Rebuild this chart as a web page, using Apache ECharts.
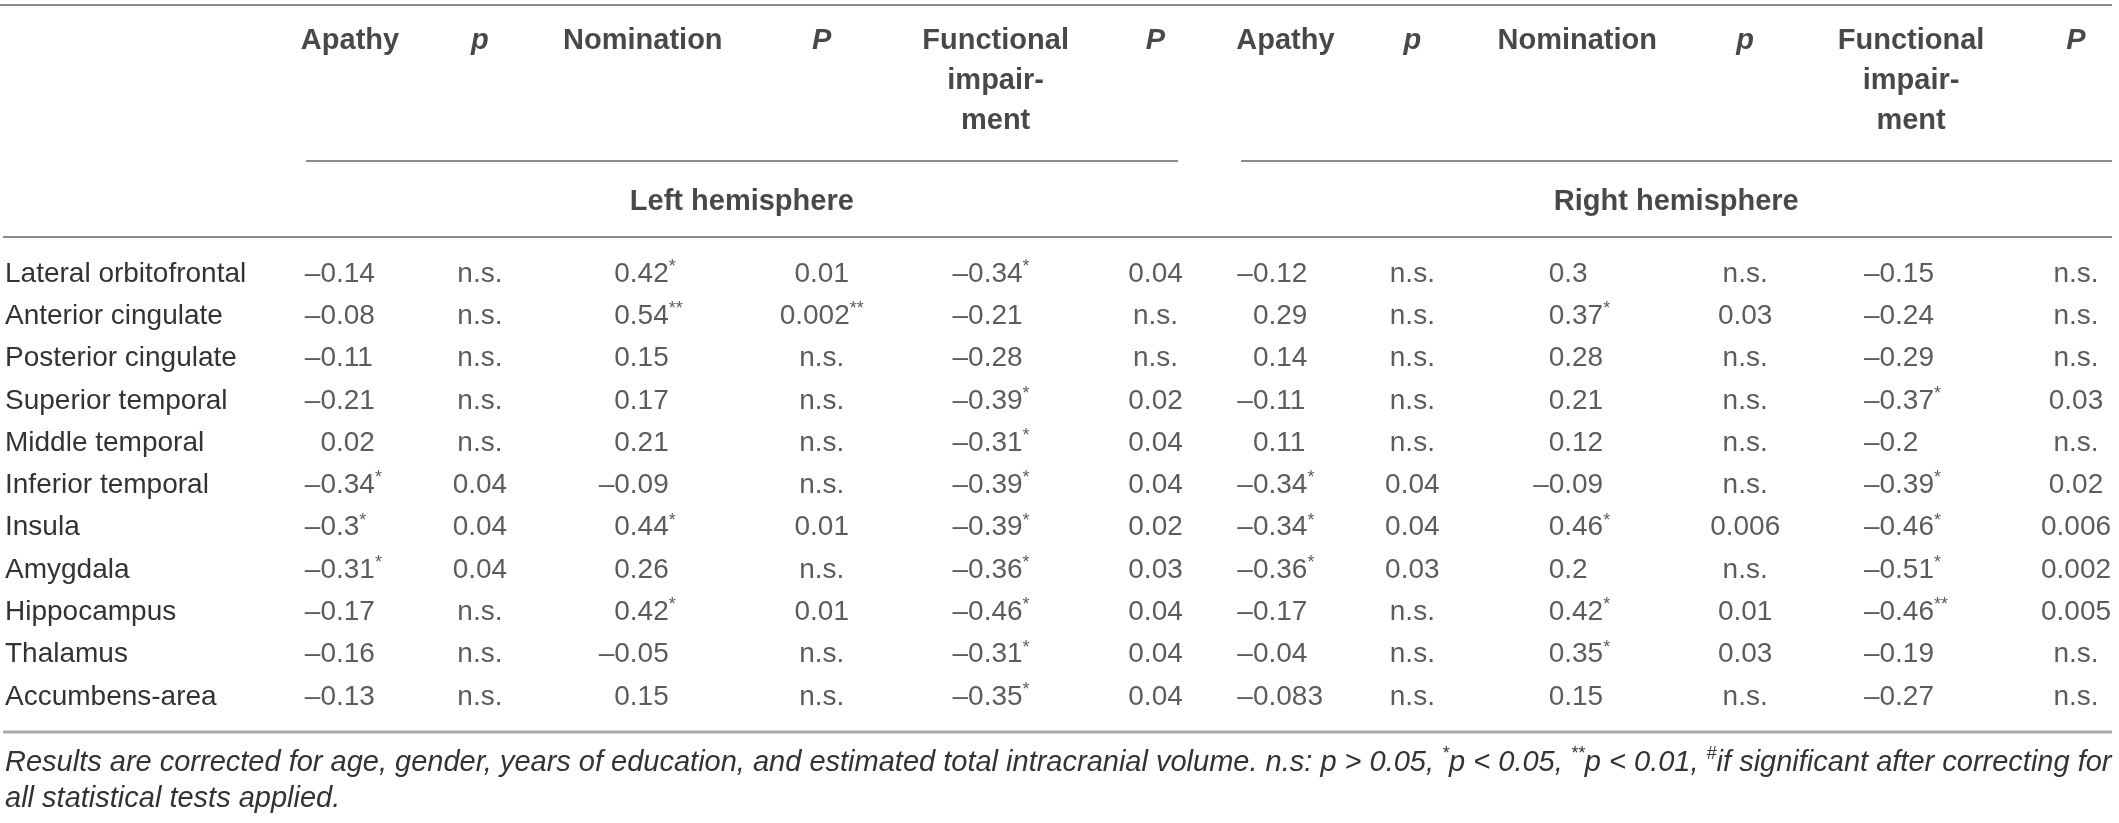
<!DOCTYPE html>
<html><head><meta charset="utf-8">
<script src="https://cdn.jsdelivr.net/npm/echarts@6/dist/echarts.min.js"></script>
<style>html,body{margin:0;padding:0;background:#fff}#c{width:2119px;height:823px}</style>
</head><body><div id="c"></div>
<script>
// ---------- DATA ----------
const regions = ['Lateral orbitofrontal','Anterior cingulate','Posterior cingulate','Superior temporal','Middle temporal','Inferior temporal','Insula','Amygdala','Hippocampus','Thalamus','Accumbens-area'];
const columns = ['apathyL','pApathyL','nominationL','pNominationL','functionalL','pFunctionalL','apathyR','pApathyR','nominationR','pNominationR','functionalR','pFunctionalR'];
const headers = ['Apathy','p','Nomination','P','Functional\nimpair-\nment','P','Apathy','p','Nomination','p','Functional\nimpair-\nment','P'];
const hemispheres = ['Left hemisphere','Right hemisphere'];

// Left hemisphere
const apathyL        = [-0.14,-0.08,-0.11,-0.21,0.02,-0.34,-0.3,-0.31,-0.17,-0.16,-0.13];
const apathyLSig     = ['','','','','','*','*','*','','',''];
const pApathyL       = ['n.s.','n.s.','n.s.','n.s.','n.s.','0.04','0.04','0.04','n.s.','n.s.','n.s.'];
const nominationL    = [0.42,0.54,0.15,0.17,0.21,-0.09,0.44,0.26,0.42,-0.05,0.15];
const nominationLSig = ['*','**','','','','','*','','*','',''];
const pNominationL   = ['0.01','0.002**','n.s.','n.s.','n.s.','n.s.','0.01','n.s.','0.01','n.s.','n.s.'];
const functionalL    = [-0.34,-0.21,-0.28,-0.39,-0.31,-0.39,-0.39,-0.36,-0.46,-0.31,-0.35];
const functionalLSig = ['*','','','*','*','*','*','*','*','*','*'];
const pFunctionalL   = ['0.04','n.s.','n.s.','0.02','0.04','0.04','0.02','0.03','0.04','0.04','0.04'];
// Right hemisphere
const apathyR        = [-0.12,0.29,0.14,-0.11,0.11,-0.34,-0.34,-0.36,-0.17,-0.04,-0.083];
const apathyRSig     = ['','','','','','*','*','*','','',''];
const pApathyR       = ['n.s.','n.s.','n.s.','n.s.','n.s.','0.04','0.04','0.03','n.s.','n.s.','n.s.'];
const nominationR    = [0.3,0.37,0.28,0.21,0.12,-0.09,0.46,0.2,0.42,0.35,0.15];
const nominationRSig = ['','*','','','','','*','','*','*',''];
const pNominationR   = ['n.s.','0.03','n.s.','n.s.','n.s.','n.s.','0.006','n.s.','0.01','0.03','n.s.'];
const functionalR    = [-0.15,-0.24,-0.29,-0.37,-0.2,-0.39,-0.46,-0.51,-0.46,-0.19,-0.27];
const functionalRSig = ['','','','*','','*','*','*','**','',''];
const pFunctionalR   = ['n.s.','n.s.','n.s.','0.03','n.s.','0.02','0.006','0.002','0.005','n.s.','n.s.'];

const footnoteLine1 = 'Results are corrected for age, gender, years of education, and estimated total intracranial volume. n.s: p > 0.05, {s|*}p < 0.05, {s|**}p < 0.01, {s|#}if significant after correcting for';
const footnoteLine2 = 'all statistical tests applied.';

// ---------- LAYOUT / STYLE ----------
const colShift = [0,-27,-21,1,18,21,-6,-36,-28,-17,-8,0];      // header centre vs. uniform category slot
const decimalShift = [-14,0,-13,0,-12,0,-17,0,-13,0,-16,0];     // decimal point vs. header centre
const FONT = '"Liberation Sans", Arial, Helvetica, sans-serif';
const TXT = '#333333';
const HEAD = '#1a1a1a';
const RULE = '#8c8c8c';

const numericCols = {
  0: [apathyL, apathyLSig], 2: [nominationL, nominationLSig], 4: [functionalL, functionalLSig],
  6: [apathyR, apathyRSig], 8: [nominationR, nominationRSig], 10: [functionalR, functionalRSig]
};
const pCols = {1: pApathyL, 3: pNominationL, 5: pFunctionalL, 7: pApathyR, 9: pNominationR, 11: pFunctionalR};

function splitNum(v) {
  const s = String(Math.abs(v)).split('.');
  return { int: (v < 0 ? '\u2013' : '') + s[0], frac: '.' + (s[1] || '') };
}
const supRich = { s: { fontSize: 18, fontFamily: FONT, color: TXT, verticalAlign: 'top', lineHeight: 16 } };

const series = [];
const baseScatter = {
  type: 'scatter', symbolSize: 1, itemStyle: { color: 'rgba(0,0,0,0)' }, silent: true,
  xAxisIndex: 0, yAxisIndex: 0
};
columns.forEach((col, c) => {
  if (numericCols[c]) {
    const [vals, sig] = numericCols[c];
    const dx = colShift[c] + decimalShift[c];
    series.push(Object.assign({}, baseScatter, {
      name: col + '-int',
      data: vals.map((v, i) => ({ value: [col, regions[i]], txt: splitNum(v).int })),
      label: { show: true, position: 'inside', align: 'right', verticalAlign: 'middle', offset: [dx, 0],
        fontSize: 28, fontFamily: FONT, color: TXT, lineHeight: 32,
        formatter: p => p.data.txt }
    }));
    series.push(Object.assign({}, baseScatter, {
      name: col + '-frac',
      data: vals.map((v, i) => ({ value: [col, regions[i]], txt: splitNum(v).frac + (sig[i] ? '{s|' + sig[i] + '}' : '') })),
      label: { show: true, position: 'inside', align: 'left', verticalAlign: 'middle', offset: [dx, 0],
        fontSize: 28, fontFamily: FONT, color: TXT, lineHeight: 32, rich: supRich,
        formatter: p => p.data.txt }
    }));
  } else {
    const vals = pCols[c];
    series.push(Object.assign({}, baseScatter, {
      name: col,
      data: vals.map((v, i) => ({ value: [col, regions[i]], txt: v.replace(/(\*+)$/, '{s|$1}') })),
      label: { show: true, position: 'inside', align: 'center', verticalAlign: 'middle', offset: [colShift[c], 0],
        fontSize: 28, fontFamily: FONT, color: TXT, lineHeight: 32, rich: supRich,
        formatter: p => p.data.txt }
    }));
  }
});

// headers
columns.forEach((col, c) => {
  const italic = headers[c] === 'p' || headers[c] === 'P';
  series.push(Object.assign({}, baseScatter, {
    name: col + '-head', xAxisIndex: 1, yAxisIndex: 1,
    data: [{ value: [col, 'head'], txt: headers[c] }],
    label: { show: true, position: 'inside', align: 'center', verticalAlign: 'top', offset: [colShift[c], 0],
      fontSize: 29, fontWeight: 'bold', fontStyle: italic ? 'italic' : 'normal', fontFamily: FONT, color: HEAD, lineHeight: 40,
      formatter: p => p.data.txt }
  }));
});
// hemisphere labels (centred over their column groups)
series.push(Object.assign({}, baseScatter, {
  name: 'hemi', xAxisIndex: 1, yAxisIndex: 1,
  data: [
    { value: [columns[2], 'hemi'], txt: hemispheres[0], dx: 78 },
    { value: [columns[8], 'hemi'], txt: hemispheres[1], dx: 71 }
  ].map(d => Object.assign(d, { label: { offset: [d.dx, 0] } })),
  label: { show: true, position: 'inside', align: 'center', verticalAlign: 'middle',
    fontSize: 29, fontWeight: 'bold', fontFamily: FONT, color: HEAD,
    formatter: p => p.data.txt }
}));

const rule = (x1, y, x2, color, w) => ({ type: 'line', silent: true, shape: { x1, y1: y, x2, y2: y }, style: { stroke: color, lineWidth: w } });

const option = {
  animation: false,
  backgroundColor: '#fff',
  grid: [
    { left: 350, right: 43, top: 252.8, height: 465.3, containLabel: false, outerBoundsMode: 'none' },
    { left: 350, right: 43, top: 21, height: 181, containLabel: false, outerBoundsMode: 'none' }
  ],
  xAxis: [
    { gridIndex: 0, type: 'category', data: columns, boundaryGap: false, show: false },
    { gridIndex: 1, type: 'category', data: columns, boundaryGap: false, show: false }
  ],
  yAxis: [
    { gridIndex: 0, type: 'category', data: regions, inverse: true, boundaryGap: true,
      axisLine: { show: false }, axisTick: { show: false }, splitLine: { show: false },
      axisLabel: { align: 'left', margin: 345, fontSize: 28, fontFamily: FONT, color: TXT } },
    { gridIndex: 1, type: 'category', data: ['head', 'hemi'], inverse: true, boundaryGap: false, show: false }
  ],
  title: {
    left: 5, top: 745, padding: 0,
    text: footnoteLine1 + '\n' + footnoteLine2,
    textStyle: { fontSize: 29, fontStyle: 'italic', fontWeight: 'normal', fontFamily: FONT, color: TXT, lineHeight: 36,
      rich: { s: { fontSize: 18, fontStyle: 'italic', fontFamily: FONT, color: TXT, verticalAlign: 'top', lineHeight: 18 } } }
  },
  graphic: [
    rule(0, 5, 2112, RULE, 2),
    rule(306, 161, 1178, RULE, 2),
    rule(1241, 161, 2112, RULE, 2),
    rule(3, 237, 2112, RULE, 2),
    rule(3, 732, 2112, '#aaaaaa', 3)
  ],
  series
};
const chart = echarts.init(document.getElementById('c'), null, { renderer: 'canvas' });
chart.setOption(option);
</script></body></html>
